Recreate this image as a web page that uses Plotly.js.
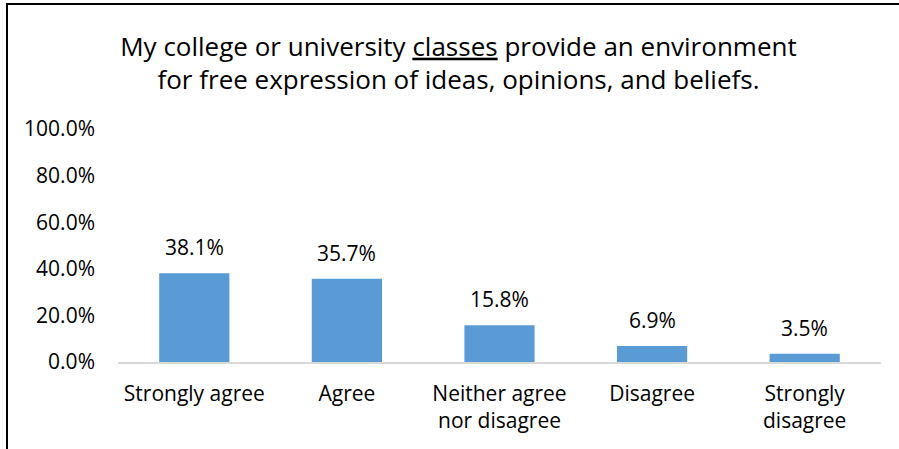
<!DOCTYPE html>
<html>
<head>
<meta charset="utf-8">
<script src="https://cdn.plot.ly/plotly-3.0.1.min.js"></script>
<style>
  html, body { margin: 0; padding: 0; background: #fff; }
  #wrap { position: relative; width: 899px; height: 449px; overflow: hidden; }
  #chart { width: 899px; height: 449px; }
  #frame { position: absolute; left: 6px; top: 3px; width: 900px; height: 460px;
           border-left: 2.5px solid #000; border-top: 2.5px solid #000; pointer-events: none; }
</style>
</head>
<body>
<div id="wrap">
  <div id="chart"></div>
  <div id="frame"></div>
</div>
<script>
const categories = ["Strongly agree", "Agree", "Neither agree<br>nor disagree", "Disagree", "Strongly<br>disagree"];
const values = [38.1, 35.7, 15.8, 6.9, 3.5];
const valueLabels = ["38.1%", "35.7%", "15.8%", "6.9%", "3.5%"];
const yTickValues = [0, 20, 40, 60, 80, 100];
const yTickLabels = ["0.0%", "20.0%", "40.0%", "60.0%", "80.0%", "100.0%"];
const titleText = "My college or university <u>classes</u> provide an environment<br>for free expression of ideas, opinions, and beliefs.";

const FONT = "'Open Sans', sans-serif";

const trace = {
  type: "bar",
  x: categories,
  y: values,
  marker: { color: "#5B9BD5" },
  hoverinfo: "none"
};

const annotations = categories.map((c, i) => ({
  x: c, y: values[i], xref: "x", yref: "y",
  text: valueLabels[i], showarrow: false,
  yanchor: "bottom", yshift: 10,
  font: { family: FONT, size: 21, color: "#000" }
}));

const layout = {
  width: 899, height: 449,
  margin: { l: 118, r: 18, t: 129, b: 87 },
  paper_bgcolor: "#fff", plot_bgcolor: "#fff",
  bargap: 0.54,
  showlegend: false,
  title: {
    text: titleText,
    x: 0.51, xanchor: "center",
    y: 0.876, yanchor: "middle", yref: "container",
    font: { family: FONT, size: 26, color: "#000" }
  },
  xaxis: {
    type: "category",
    showline: true, linecolor: "#D9D9D9", linewidth: 1.5,
    showgrid: false, zeroline: false, ticks: "",
    ticklabelstandoff: 12,
    tickfont: { family: FONT, size: 21, color: "#000" }
  },
  yaxis: {
    range: [0, 100],
    tickvals: yTickValues, ticktext: yTickLabels,
    showline: false, showgrid: false, zeroline: false, ticks: "",
    ticklabelstandoff: 22,
    tickfont: { family: FONT, size: 21, color: "#000" }
  },
  annotations: annotations
};

Plotly.newPlot("chart", [trace], layout, { staticPlot: true, displayModeBar: false });
</script>
</body>
</html>
